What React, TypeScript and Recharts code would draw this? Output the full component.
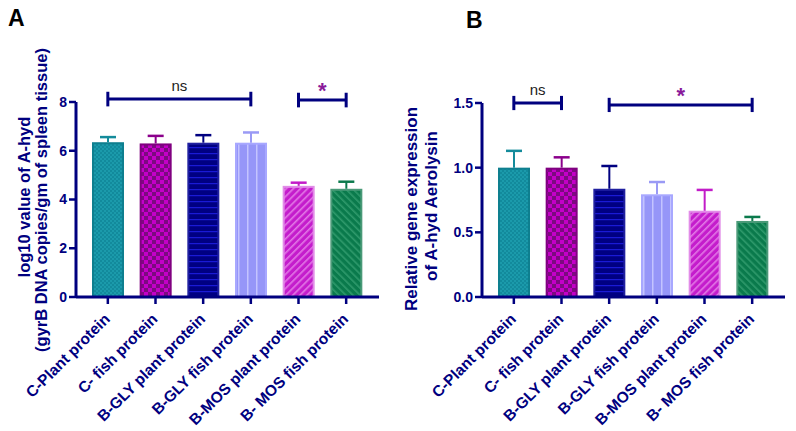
import React from 'react';
import { BarChart, Bar, XAxis, YAxis, ReferenceLine } from 'recharts';

const categories = ['C-Plant protein', 'C- fish protein', 'B-GLY plant protein', 'B-GLY fish protein', 'B-MOS plant protein', 'B- MOS fish protein'];
const meanA = [6.35, 6.3, 6.33, 6.33, 4.56, 4.44];
const errTopA = [6.56, 6.61, 6.64, 6.75, 4.69, 4.73];
const meanB = [1.0, 1.0, 0.837, 0.794, 0.667, 0.588];
const errTopB = [1.13, 1.08, 1.013, 0.889, 0.828, 0.619];
const ticksA = [0, 2, 4, 6, 8];
const ticksB = [0, 0.5, 1.0, 1.5];

const fills = ['url(#pTeal)', 'url(#pMag)', 'url(#pNavy)', 'url(#pPeri)', 'url(#pPink)', 'url(#pGreen)'];
const borders = ['#0e7f8f', '#800080', '#2020a0', '#a8a8ff', '#e28ce8', '#4a9a78'];
const errColors = ['#148b9b', '#8b008b', '#000080', '#9a9af5', '#c21cc8', '#0b7a4c'];

const NAVY = '#00007f';
const FONT = '"Liberation Sans", Arial, sans-serif';

const dataA = categories.map((c, i) => ({ name: c, value: meanA[i], err: errTopA[i] }));
const dataB = categories.map((c, i) => ({ name: c, value: meanB[i], err: errTopB[i] }));

const BarShape = (props: any) => {
  const { x, y, width, height, payload, index } = props;
  const ratio = payload.value ? height / payload.value : 0;
  const errY = y + height - payload.err * ratio;
  const cx = x + width / 2;
  return (
    <g>
      <rect x={x + 1} y={y + 1} width={width - 2} height={height - 1} fill={fills[index]} stroke={borders[index]} strokeWidth={2} />
      <line x1={cx} x2={cx} y1={y} y2={errY} stroke={errColors[index]} strokeWidth={2} />
      <line x1={cx - 8} x2={cx + 8} y1={errY} y2={errY} stroke={errColors[index]} strokeWidth={2.5} />
    </g>
  );
};

const CatTick = (props: any) => {
  const { x, y, payload } = props;
  const ax = x + 3;
  const ay = y + 14;
  return (
    <text x={ax} y={ay} transform={`rotate(-45 ${ax} ${ay})`} textAnchor="end" fill={NAVY} fontFamily={FONT} fontWeight="bold" fontSize={15.5}>
      {payload.value}
    </text>
  );
};

const makeYLabel = (l1: string, l2: string, x1: number, x2: number, c1: number, c2: number, fs: number) => () => (
  <g fill={NAVY} fontFamily={FONT} fontWeight="bold" fontSize={fs}>
    <text x={x1} y={c1} transform={`rotate(-90 ${x1} ${c1})`} textAnchor="middle">{l1}</text>
    <text x={x2} y={c2} transform={`rotate(-90 ${x2} ${c2})`} textAnchor="middle">{l2}</text>
  </g>
);

const bracketLines = (a: string, b: string, y: number, h: number, text: string, star: boolean, key: string) => [
  <ReferenceLine key={key + 'h'} segment={[{ x: a, y }, { x: b, y }]} stroke={NAVY} strokeWidth={3} ifOverflow="visible"
    label={{ value: text, position: 'top', offset: star ? 2 : 8, fill: star ? '#8a1a9a' : '#222', fontSize: star ? 22 : 15, fontWeight: star ? 'bold' : 'normal', fontFamily: FONT }} />,
  <ReferenceLine key={key + 'a'} segment={[{ x: a, y: y - h }, { x: a, y: y + h }]} stroke={NAVY} strokeWidth={3} ifOverflow="visible" />,
  <ReferenceLine key={key + 'b'} segment={[{ x: b, y: y - h }, { x: b, y: y + h }]} stroke={NAVY} strokeWidth={3} ifOverflow="visible" />,
];

const yTickStyle = { fill: NAVY, fontFamily: FONT, fontWeight: 'bold' as const, fontSize: 14 };

export default function App() {
  return (
    <div style={{ position: 'absolute', left: 0, top: 0, width: 796, height: 431, background: '#fff', fontFamily: FONT }}>
      <svg width={0} height={0} style={{ position: 'absolute' }}>
        <defs>
          <pattern id="pTeal" width="4" height="4" patternUnits="userSpaceOnUse">
            <rect width="4" height="4" fill="#1b9aab" />
            <rect width="2" height="2" fill="#128a9c" />
            <rect x="2" y="2" width="2" height="2" fill="#128a9c" />
          </pattern>
          <pattern id="pMag" width="8" height="8" patternUnits="userSpaceOnUse">
            <rect width="8" height="8" fill="#c400c8" />
            <rect width="4" height="4" fill="#7c0a80" />
            <rect x="4" y="4" width="4" height="4" fill="#7c0a80" />
          </pattern>
          <pattern id="pNavy" width="6" height="6" patternUnits="userSpaceOnUse">
            <rect width="6" height="6" fill="#000082" />
            <rect y="3" width="6" height="1.2" fill="#1a1ad6" />
          </pattern>
          <pattern id="pPeri" width="9" height="9" patternUnits="userSpaceOnUse">
            <rect width="9" height="9" fill="#9696f8" />
            <rect x="4" width="1.5" height="9" fill="#c4c4ff" />
          </pattern>
          <pattern id="pPink" width="5" height="5" patternUnits="userSpaceOnUse" patternTransform="rotate(45)">
            <rect width="5" height="5" fill="#c41ccc" />
            <rect width="1.6" height="5" fill="#e278e6" />
          </pattern>
          <pattern id="pGreen" width="5" height="5" patternUnits="userSpaceOnUse" patternTransform="rotate(-45)">
            <rect width="5" height="5" fill="#0a7a4c" />
            <rect width="1.6" height="5" fill="#2f9a6c" />
          </pattern>
        </defs>
      </svg>

      <div style={{ position: 'absolute', left: 8, top: 5, fontSize: 23, fontWeight: 'bold', color: '#000', fontFamily: FONT }}>A</div>
      <div style={{ position: 'absolute', left: 466, top: 7, fontSize: 23, fontWeight: 'bold', color: '#000', fontFamily: FONT }}>B</div>

      <div style={{ position: 'absolute', left: 0, top: 0 }}>
        <BarChart width={400} height={431} data={dataA} margin={{ top: 102, right: 21, bottom: 14, left: 0 }} barSize={32}>
          <XAxis dataKey="name" interval={0} tick={<CatTick />} height={120} padding={{ left: 8, right: 9 }}
            axisLine={{ stroke: NAVY, strokeWidth: 3 }} tickLine={{ stroke: NAVY, strokeWidth: 2.5 }} tickSize={7} />
          <YAxis type="number" domain={[0, 8]} ticks={ticksA} width={76} tick={yTickStyle}
            axisLine={{ stroke: NAVY, strokeWidth: 3 }} tickLine={{ stroke: NAVY, strokeWidth: 2.5 }} tickSize={7}
            label={{ content: makeYLabel('log10 value of A-hyd', '(gyrB DNA copies/gm of spleen tissue)', 30, 47, 197, 200, 16.5) }} />
          <Bar dataKey="value" isAnimationActive={false} shape={<BarShape />} />
          {bracketLines(categories[0], categories[3], 8.12, 0.3, 'ns', false, 'a1')}
          {bracketLines(categories[4], categories[5], 8.08, 0.3, '*', true, 'a2')}
        </BarChart>
      </div>

      <div style={{ position: 'absolute', left: 396, top: 0 }}>
        <BarChart width={400} height={431} data={dataB} margin={{ top: 103, right: 11, bottom: 14, left: 0 }} barSize={32}>
          <XAxis dataKey="name" interval={0} tick={<CatTick />} height={120} padding={{ left: 8, right: 9 }}
            axisLine={{ stroke: NAVY, strokeWidth: 3 }} tickLine={{ stroke: NAVY, strokeWidth: 2.5 }} tickSize={7} />
          <YAxis type="number" domain={[0, 1.5]} ticks={ticksB} width={86} tick={yTickStyle} tickFormatter={(v: number) => v.toFixed(1)}
            axisLine={{ stroke: NAVY, strokeWidth: 3 }} tickLine={{ stroke: NAVY, strokeWidth: 2.5 }} tickSize={7}
            label={{ content: makeYLabel('Relative gene expression', 'of A-hyd Aerolysin', 20.5, 41, 209, 206, 17) }} />
          <Bar dataKey="value" isAnimationActive={false} shape={<BarShape />} />
          {bracketLines(categories[0], categories[1], 1.5, 0.055, 'ns', false, 'b1')}
          {bracketLines(categories[2], categories[5], 1.485, 0.055, '*', true, 'b2')}
        </BarChart>
      </div>
    </div>
  );
}
